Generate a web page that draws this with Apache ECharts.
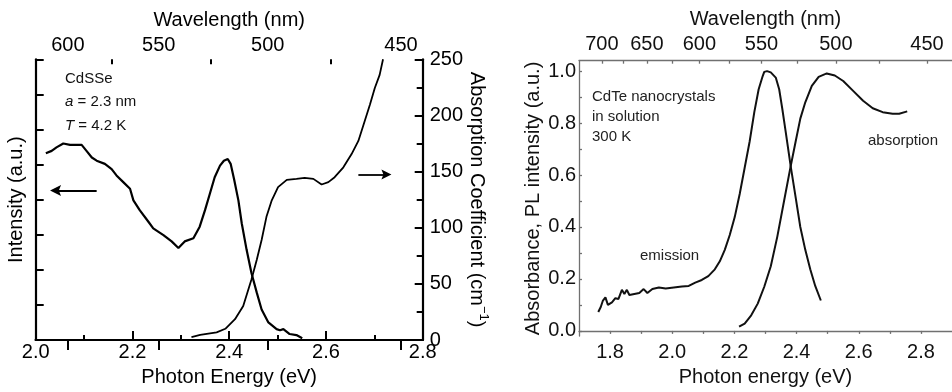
<!DOCTYPE html>
<html>
<head>
<meta charset="utf-8">
<script src="https://cdn.jsdelivr.net/npm/echarts@6/dist/echarts.min.js"></script>
<style>
  html, body { margin: 0; padding: 0; background: #fff; }
  #chart { width: 952px; height: 392px; }
</style>
</head>
<body>
<div id="chart"></div>
<script>
// hc in eV·nm, converts wavelength (nm) to photon energy (eV)
const HC = 1239.84;

// ---- CdSSe, a = 2.3 nm, T = 4.2 K ----
const cdssePLEnergy = [2.021, 2.033, 2.043, 2.057, 2.071, 2.095, 2.105, 2.116, 2.126, 2.143,
  2.157, 2.167, 2.181, 2.195, 2.202, 2.215, 2.233, 2.243, 2.264, 2.281,
  2.295, 2.308, 2.326, 2.339, 2.350, 2.360, 2.370, 2.381, 2.389, 2.397,
  2.403, 2.410, 2.419, 2.426, 2.436, 2.446, 2.457, 2.467, 2.481, 2.498,
  2.505, 2.512, 2.525, 2.539, 2.551];
const cdssePL = [5.32, 5.39, 5.49, 5.60, 5.56, 5.56, 5.39, 5.20, 5.11, 5.02,
  4.87, 4.69, 4.50, 4.31, 3.98, 3.70, 3.37, 3.18, 2.99, 2.81,
  2.62, 2.81, 2.90, 3.23, 3.70, 4.17, 4.64, 4.97, 5.11, 5.16,
  5.02, 4.59, 3.98, 3.32, 2.57, 1.91, 1.35, 0.87, 0.50, 0.31,
  0.28, 0.31, 0.17, 0.14, 0.05];
const cdsseAbsEnergy = [2.322, 2.340, 2.374, 2.392, 2.412, 2.429, 2.446, 2.457, 2.467, 2.477,
  2.488, 2.501, 2.519, 2.539, 2.556, 2.574, 2.591, 2.605, 2.618, 2.636,
  2.653, 2.667, 2.680, 2.691, 2.701, 2.711, 2.718];
const cdsseAbs = [2.5, 4.5, 6.8, 10.0, 18.5, 30.3, 53.8, 71.4, 89.1, 109.7,
  124.4, 136.2, 142.6, 143.5, 144.4, 143.5, 138.5, 140.6, 145.0, 153.8,
  165.6, 177.3, 194.9, 209.7, 224.4, 236.1, 250];
const cdsseWavelengthLabels = [600, 550, 500, 450];
const cdsseWavelengthMinor = [575, 525, 475];
// arrows pointing each curve to its axis
const plArrow = [[2.126, 4.26], [2.041, 4.26]];
const absArrow = [[2.667, 147.3], [2.725, 147.3]];

// ---- CdTe nanocrystals in solution, 300 K ----
const cdteEmEnergy = [1.762, 1.770, 1.777, 1.785, 1.793, 1.806, 1.817, 1.827, 1.838, 1.846,
  1.854, 1.862, 1.878, 1.894, 1.908, 1.920, 1.936, 1.957, 1.979, 2.005,
  2.031, 2.053, 2.074, 2.095, 2.116, 2.137, 2.153, 2.169, 2.185, 2.201,
  2.217, 2.233, 2.249, 2.264, 2.278, 2.291, 2.296, 2.305, 2.317, 2.333,
  2.344, 2.354, 2.365, 2.381, 2.397, 2.412, 2.428, 2.444, 2.460, 2.478];
const cdteEm = [0.073, 0.092, 0.117, 0.129, 0.100, 0.110, 0.126, 0.123, 0.158, 0.142,
  0.158, 0.138, 0.142, 0.146, 0.161, 0.146, 0.161, 0.167, 0.163, 0.167,
  0.171, 0.173, 0.186, 0.196, 0.211, 0.237, 0.268, 0.312, 0.369, 0.438,
  0.527, 0.628, 0.729, 0.842, 0.930, 0.981, 0.997, 1.000, 0.995, 0.975,
  0.930, 0.855, 0.766, 0.634, 0.514, 0.400, 0.312, 0.237, 0.173, 0.117];
const cdteAbsEnergy = [2.215, 2.233, 2.254, 2.275, 2.296, 2.317, 2.338, 2.360, 2.381, 2.397,
  2.412, 2.428, 2.449, 2.471, 2.497, 2.523, 2.550, 2.582, 2.614, 2.645,
  2.677, 2.709, 2.730, 2.756];
const cdteAbs = [0.016, 0.028, 0.060, 0.105, 0.170, 0.249, 0.363, 0.502, 0.634, 0.729,
  0.817, 0.880, 0.943, 0.978, 0.991, 0.983, 0.962, 0.924, 0.886, 0.857,
  0.842, 0.836, 0.836, 0.845];
const cdteEnergyLabels = [1.8, 2.0, 2.2, 2.4, 2.6, 2.8];
const cdteEnergyTicks = [1.8, 1.9, 2.0, 2.1, 2.2, 2.3, 2.4, 2.5, 2.6, 2.7, 2.8];
const cdteWavelengthLabels = [700, 650, 600, 550, 500, 450];
const cdteWavelengthTicks = [700, 675, 650, 625, 600, 575, 550, 525, 500, 475, 450];
const cdteYLabels = [0, 0.2, 0.4, 0.6, 0.8, 1.0];
const cdteYTicks = [0, 0.1, 0.2, 0.3, 0.4, 0.5, 0.6, 0.7, 0.8, 0.9, 1.0];

const zip = (xs, ys) => xs.map((x, i) => [x, ys[i]]);
const toEnergy = nm => HC / nm;
const toNm = e => String(Math.round(HC / e));

const FONT = '"Liberation Sans", Arial, Helvetica, sans-serif';
const BLACK = '#000';
const GREY = '#707070';
const txt = (size, color) => ({ fontSize: size, color: color || BLACK, fontFamily: FONT });

const leftLine = { show: true, lineStyle: { color: BLACK, width: 2.2 } };
const rightLine = { show: true, lineStyle: { color: GREY, width: 1.3 } };

// filled arrowhead pointing along the line direction
const ARROW_HEAD = 'path://M0,0 L10,20 L0,16 L-10,20 Z';

const option = {
  animation: false,
  backgroundColor: '#fff',
  grid: [
    { left: 35.7, right: 529.3, top: 59.3, bottom: 49.3, containLabel: false },
    { left: 579, right: -6.3, top: 60.7, bottom: 48.7, containLabel: false }
  ],
  xAxis: [
    { // CdSSe photon energy
      gridIndex: 0, type: 'value', position: 'bottom', min: 2.0, max: 2.8, interval: 0.2,
      axisLine: leftLine,
      axisTick: { show: true, inside: true, length: 9, lineStyle: { color: BLACK, width: 2 } },
      minorTick: { show: true, splitNumber: 2, length: 5, lineStyle: { color: BLACK, width: 2 } },
      axisLabel: Object.assign(txt(20), { margin: 2, formatter: v => v.toFixed(1), showMinLabel: true, showMaxLabel: true }),
      splitLine: { show: false },
      name: 'Photon Energy (eV)', nameLocation: 'middle', nameGap: 27, nameTextStyle: txt(20)
    },
    { // CdSSe wavelength, labelled ticks
      gridIndex: 0, type: 'value', position: 'top', min: 2.0, max: 2.8,
      axisLine: leftLine,
      axisTick: { show: true, inside: true, length: 10, lineStyle: { color: BLACK, width: 2 },
        customValues: cdsseWavelengthLabels.map(toEnergy) },
      axisLabel: Object.assign(txt(20), { margin: 4, formatter: toNm,
        customValues: cdsseWavelengthLabels.map(toEnergy) }),
      splitLine: { show: false },
      name: 'Wavelength (nm)', nameLocation: 'middle', nameGap: 27, nameTextStyle: txt(20)
    },
    { // CdSSe wavelength, intermediate ticks
      gridIndex: 0, type: 'value', position: 'top', min: 2.0, max: 2.8,
      axisLine: { show: false },
      axisTick: { show: true, inside: true, length: 5, lineStyle: { color: BLACK, width: 2 },
        customValues: cdsseWavelengthMinor.map(toEnergy) },
      axisLabel: { show: false },
      splitLine: { show: false }
    },
    { // CdTe photon energy
      gridIndex: 1, type: 'value', position: 'bottom', min: 1.7, max: 2.9,
      axisLine: rightLine,
      axisTick: { show: true, inside: false, length: 3, lineStyle: { color: GREY, width: 1.3 },
        customValues: cdteEnergyTicks },
      axisLabel: Object.assign(txt(20, '#111'), { margin: 6, formatter: v => v.toFixed(1),
        customValues: cdteEnergyLabels }),
      splitLine: { show: false },
      name: 'Photon energy (eV)', nameLocation: 'middle', nameGap: 28, nameTextStyle: txt(20, '#111')
    },
    { // CdTe wavelength scale
      gridIndex: 1, type: 'value', position: 'top', min: 1.702, max: 2.831,
      axisLine: rightLine,
      axisTick: { show: true, inside: true, length: 3, lineStyle: { color: GREY, width: 1.3 },
        customValues: cdteWavelengthTicks.map(toEnergy) },
      axisLabel: Object.assign(txt(20, '#111'), { margin: 6, formatter: toNm,
        customValues: cdteWavelengthLabels.map(toEnergy) }),
      splitLine: { show: false },
      name: 'Wavelength (nm)', nameLocation: 'middle', nameGap: 28, nameTextStyle: txt(20, '#111')
    }
  ],
  yAxis: [
    { // CdSSe PL intensity
      gridIndex: 0, type: 'value', position: 'left', min: 0, max: 8, interval: 1,
      axisLine: leftLine,
      axisTick: { show: true, inside: true, length: 8, lineStyle: { color: BLACK, width: 2 } },
      axisLabel: { show: false },
      splitLine: { show: false },
      name: 'Intensity (a.u.)', nameLocation: 'middle', nameGap: 9, nameTextStyle: txt(20)
    },
    { // CdSSe absorption coefficient
      gridIndex: 0, type: 'value', position: 'right', min: 0, max: 250, interval: 50,
      axisLine: leftLine,
      axisTick: { show: true, inside: true, length: 8, lineStyle: { color: BLACK, width: 2 } },
      minorTick: { show: true, splitNumber: 2, length: 6, lineStyle: { color: BLACK, width: 2 } },
      axisLabel: Object.assign(txt(20), { margin: 7 }),
      splitLine: { show: false },
      name: 'Absorption Coefficient (cm{sup|−1})', nameLocation: 'middle', nameGap: 40, nameRotate: -90,
      nameTextStyle: Object.assign(txt(20), {
        rich: { sup: { fontSize: 13, fontFamily: FONT, color: BLACK, verticalAlign: 'top', lineHeight: 26 } }
      })
    },
    { // CdTe absorbance / PL intensity
      gridIndex: 1, type: 'value', position: 'left', min: -0.02, max: 1.04,
      axisLine: rightLine,
      axisTick: { show: true, inside: true, length: 3, lineStyle: { color: GREY, width: 1.3 },
        customValues: cdteYTicks },
      axisLabel: Object.assign(txt(20, '#111'), { margin: 3, formatter: v => v.toFixed(1),
        customValues: cdteYLabels }),
      splitLine: { show: false },
      name: 'Absorbance, PL intensity (a.u.)', nameLocation: 'middle', nameGap: 36, nameTextStyle: txt(20, '#111')
    }
  ],
  series: [
    {
      name: 'CdSSe PL', type: 'line', xAxisIndex: 0, yAxisIndex: 0,
      data: zip(cdssePLEnergy, cdssePL), showSymbol: false, symbol: 'none',
      lineStyle: { color: BLACK, width: 2.2 }, silent: true,
      markLine: {
        silent: true, symbol: ['none', ARROW_HEAD], symbolSize: 11,
        lineStyle: { color: BLACK, width: 2.2, type: 'solid' }, label: { show: false },
        itemStyle: { color: BLACK },
        data: [[{ coord: plArrow[0] }, { coord: plArrow[1] }]]
      }
    },
    {
      name: 'CdSSe absorption', type: 'line', xAxisIndex: 0, yAxisIndex: 1,
      data: zip(cdsseAbsEnergy, cdsseAbs), showSymbol: false, symbol: 'none',
      lineStyle: { color: BLACK, width: 1.8 }, silent: true, clip: true,
      markLine: {
        silent: true, symbol: ['none', ARROW_HEAD], symbolSize: 10,
        lineStyle: { color: BLACK, width: 1.8, type: 'solid' }, label: { show: false },
        itemStyle: { color: BLACK },
        data: [[{ coord: absArrow[0] }, { coord: absArrow[1] }]]
      }
    },
    {
      name: 'CdTe emission', type: 'line', xAxisIndex: 3, yAxisIndex: 2,
      data: zip(cdteEmEnergy, cdteEm), showSymbol: false, symbol: 'none',
      lineStyle: { color: '#111', width: 2 }, silent: true
    },
    {
      name: 'CdTe absorption', type: 'line', xAxisIndex: 3, yAxisIndex: 2,
      data: zip(cdteAbsEnergy, cdteAbs), showSymbol: false, symbol: 'none',
      lineStyle: { color: '#111', width: 2 }, silent: true
    }
  ],
  graphic: [
    { type: 'text', left: 65, top: 71, style: { text: 'CdSSe', font: '15px ' + FONT, fill: '#111' } },
    { type: 'text', left: 65, top: 94, style: { text: '{i|a} = 2.3 nm', font: '15px ' + FONT, fill: '#111',
      rich: { i: { fontStyle: 'italic', fontSize: 15, fontFamily: FONT } } } },
    { type: 'text', left: 65, top: 118, style: { text: '{i|T} = 4.2 K', font: '15px ' + FONT, fill: '#111',
      rich: { i: { fontStyle: 'italic', fontSize: 15, fontFamily: FONT } } } },
    { type: 'text', left: 592, top: 89, style: { text: 'CdTe nanocrystals', font: '15px ' + FONT, fill: '#222' } },
    { type: 'text', left: 592, top: 109, style: { text: 'in solution', font: '15px ' + FONT, fill: '#222' } },
    { type: 'text', left: 592, top: 129, style: { text: '300 K', font: '15px ' + FONT, fill: '#222' } },
    { type: 'text', left: 640, top: 248, style: { text: 'emission', font: '15px ' + FONT, fill: '#222' } },
    { type: 'text', left: 868, top: 133, style: { text: 'absorption', font: '15px ' + FONT, fill: '#222' } }
  ]
};

const chart = echarts.init(document.getElementById('chart'), null, { renderer: 'canvas' });
chart.setOption(option);
</script>
</body>
</html>
